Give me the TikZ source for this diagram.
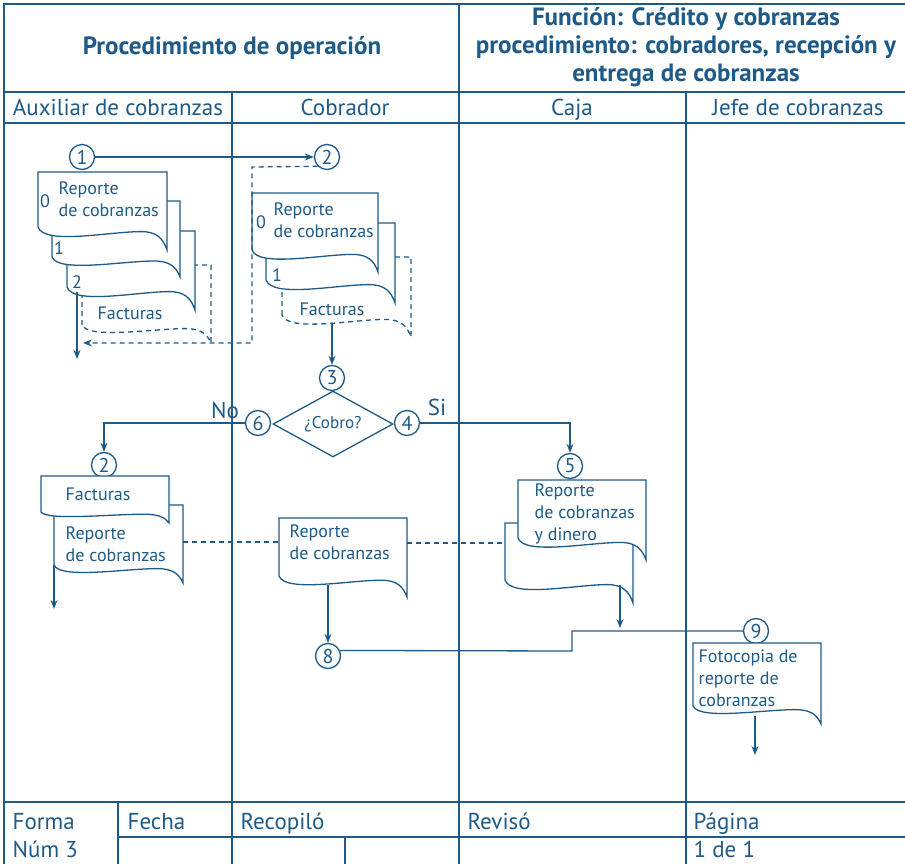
\documentclass[tikz,border=0pt]{standalone}
\usepackage{fontspec}
\setmainfont{PT Sans}
\usetikzlibrary{arrows.meta, shapes.geometric, positioning}
\definecolor{azul}{RGB}{30,90,135}

\tikzset{
  pics/docu/.style n args={3}{code={
    \draw[fill=white, pic actions] (0,#2) -- (0,0) -- (#1,0) -- (#1,#3)
      .. controls ({0.97*#1},{#2+0.5*(#3-#2)}) and ({0.92*#1},{#2+0.2*(#3-#2)}) .. ({0.8*#1},{#2+0.2*(#3-#2)})
      .. controls ({0.55*#1},{#2+0.2*(#3-#2)}) and ({0.05*#1},{#2+0.8*(#3-#2)}) .. (0,#2);
  }},
}

\begin{document}
\begin{tikzpicture}[x=1pt, y=-1pt, line width=1.3pt, color=azul,
  font=\fontsize{18}{22}\selectfont,
  arr/.style={-{Stealth[length=9pt,width=7pt]}},
  dsh/.style={dash pattern=on 5pt off 4pt},
  num/.style={circle, draw, fill=white, minimum size=25pt, inner sep=0pt, font=\fontsize{20}{20}\selectfont},
  txt/.style={anchor=north west, align=left, inner sep=0pt},
  lane/.style={font=\fontsize{23}{24}\selectfont},
  foot/.style={lane, anchor=base west, inner sep=0pt},
  hdr/.style={font=\fontsize{25}{28}\selectfont\bfseries, align=center},
]
\useasboundingbox (0,0) rectangle (905,864);

% frame and lanes
\draw (4,864) -- (4,4) -- (905,4);
\draw (4,92) -- (905,92);
\draw (4,123) -- (905,123);
\draw (4,802) -- (905,802);
\draw (118,837) -- (905,837);
\draw (459,4) -- (459,864);
\foreach \x in {232,686}
  \draw (\x,92) -- (\x,864);
\draw (118,802) -- (118,864);
\draw (345,837) -- (345,864);

% header
\node[hdr] (proc) at (232,48) {Procedimiento de operación};
\node[hdr] (func) at (686,47) {Función: Crédito y cobranzas\\procedimiento: cobradores, recepción y\\entrega de cobranzas};
\node[lane, anchor=base] (aux) at (118,116) {Auxiliar de cobranzas};
\node[lane, anchor=base] (cob) at (345,116) {Cobrador};
\node[lane, anchor=base] (caja) at (572,116) {Caja};
\node[lane, anchor=base] (jefe) at (798,116) {Jefe de cobranzas};

% footer
\node[foot] (forma) at (12,829) {Forma};
\node[foot] (num) at (12,857) {Núm 3};
\node[foot] (fecha) at (127,829) {Fecha};
\node[foot] (recop) at (240,829) {Recopiló};
\node[foot] (revis) at (467,829) {Revisó};
\node[foot] (pag) at (693,829) {Página};
\node[foot] (pagn) at (693,857) {1 de 1};

% auxiliar: report stack
\pic[dsh] at (82,265) {docu={129}{60}{78}};
\pic at (67,231) {docu={128}{56}{79}};
\pic at (52,201) {docu={128}{56}{76}};
\pic at (38,172) {docu={129}{55}{78}};
\node[txt] (ax-rep) at (58,181) {Reporte\\de cobranzas};
\node (ax-0) at (45,201) {0};
\node (ax-1) at (59,248) {1};
\node (ax-2) at (77,282) {2};
\node (ax-fac) at (130,313) {Facturas};

% cobrador: report stack
\pic[dsh] at (282,257) {docu={129}{58}{80}};
\pic at (266,223) {docu={129}{57}{80}};
\pic at (252,193) {docu={126}{57}{79}};
\node[txt] (cb-rep) at (273,202) {Reporte\\de cobranzas};
\node (cb-0) at (261,222) {0};
\node (cb-1) at (277,275) {1};
\node (cb-fac) at (332,309) {Facturas};

% connectors
\node[num] (c1) at (82,157) {1};
\node[num] (c2) at (327,157) {2};
\draw[arr] (c1) -- (c2);
\coordinate (dk1) at (252,167);
\coordinate (dk2) at (252,343);
\coordinate (dk3) at (83,343);
\draw[dsh, arr] (c2.south west) -- (dk1) -- (dk2) -- (dk3);
\coordinate (ax-out) at (77,292);
\coordinate (ax-end) at (77,359);
\draw[arr] (ax-out) -- (ax-end);

% decision
\node[num] (c3) at (332,378) {3};
\coordinate (cb-out) at (332,323);
\draw[arr] (cb-out) -- (c3);
\node[diamond, draw, aspect=1.8, minimum width=120pt, minimum height=66pt, inner sep=0pt, font=\fontsize{17}{20}\selectfont] (q) at (333,424) {¿Cobro?};
\node[num] (c6) at (258,423) {6};
\node[num] (c4) at (407,423) {4};
\node[lane] (no) at (225,410) {No};
\node[lane] (si) at (437,407) {Si};
\node[num] (c2b) at (104,465) {2};
\node[num] (c5) at (570,466) {5};
\draw[arr] (c6) -| (c2b);
\draw[arr] (c4) -| (c5);

% auxiliar: returned documents
\pic at (54,505) {docu={129}{60}{78}};
\pic at (41,476) {docu={128}{36}{47}};
\node (ax2-fac) at (98,494) {Facturas};
\node[txt] (ax2-rep) at (65,526) {Reporte\\de cobranzas};
\coordinate (ax2-out) at (54,565);
\coordinate (ax2-end) at (54,609);
\draw[arr] (ax2-out) -- (ax2-end);

% cobrador: report
\pic at (279,518) {docu={128}{58}{79}};
\node[txt] (cb2-rep) at (289,524) {Reporte\\de cobranzas};

% caja: report and money
\pic at (505,523) {docu={128}{57}{80}};
\pic at (518,480) {docu={128}{58}{80}};
\node[txt] (cj-rep) at (534,483) {Reporte\\de cobranzas\\y dinero};

% dashed links
\coordinate (dl1) at (183,542);
\coordinate (dl2) at (279,542);
\coordinate (dl3) at (407,543);
\coordinate (dl4) at (505,543);
\draw[dsh] (dl1) -- (dl2);
\draw[dsh] (dl3) -- (dl4);

% closing
\node[num] (c8) at (328,656) {8};
\coordinate (rm-out) at (328,585);
\draw[arr] (rm-out) -- (c8);
\coordinate (cj-out) at (620,585);
\coordinate (cj-end) at (620,628);
\draw[arr] (cj-out) -- (cj-end);
\node[num] (c9) at (756,631) {9};
\coordinate (st1) at (572,651);
\coordinate (st2) at (572,631);
\draw (c8.25) -- (st1) -- (st2) -- (c9);

% jefe: photocopy
\pic at (693,643) {docu={128}{63}{81}};
\node[txt] (jf-rep) at (698,649) {Fotocopia de\\reporte de\\cobranzas};
\coordinate (jf-out) at (755,716);
\coordinate (jf-end) at (755,755);
\draw[arr] (jf-out) -- (jf-end);
\end{tikzpicture}
\end{document}
